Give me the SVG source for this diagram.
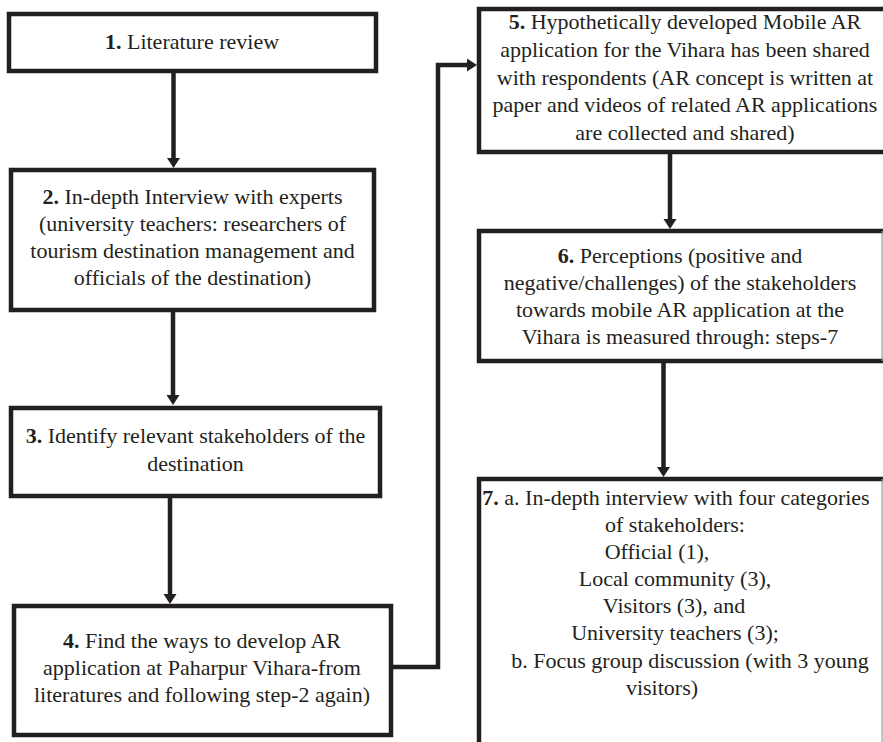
<svg xmlns="http://www.w3.org/2000/svg" width="883" height="742" viewBox="0 0 883 742">
<style>
.box{fill:none;stroke:#231f20;stroke-width:4.5}
.edge{stroke:#9a9a9a;stroke-width:1.2}
.con{fill:none;stroke:#231f20;stroke-width:4.5}
text{font-family:'Liberation Serif','Times New Roman',serif;font-size:22px;fill:#231f20;text-anchor:middle}
.b{font-weight:bold}
</style>
<defs>
<marker id="ah" markerUnits="userSpaceOnUse" markerWidth="11" markerHeight="14" refX="2" refY="6.5" orient="auto">
<path d="M0,0 L10,6.5 L0,13 z" fill="#231f20"/>
</marker>
</defs>
<rect width="883" height="742" fill="#ffffff"/>
<g id="connectors">
<line class="con" x1="173.5" y1="73" x2="173.5" y2="160" marker-end="url(#ah)"/>
<line class="con" x1="173" y1="311" x2="173" y2="397" marker-end="url(#ah)"/>
<line class="con" x1="170" y1="497" x2="170" y2="596" marker-end="url(#ah)"/>
<path class="con" d="M392 667 H438 V65 H469" marker-end="url(#ah)"/>
<line class="con" x1="670" y1="153" x2="670" y2="221" marker-end="url(#ah)"/>
<line class="con" x1="663.5" y1="362" x2="663.5" y2="469" marker-end="url(#ah)"/>
</g>
<g id="node1">
<rect class="box" x="9" y="14" width="367" height="57"/>
<text x="192" y="49"><tspan class="b">1.</tspan> Literature review</text>
</g>
<g id="node2">
<rect class="box" x="11" y="170" width="363" height="140"/>
<text x="192.5" y="204"><tspan class="b">2.</tspan> In-depth Interview with experts</text>
<text x="192.5" y="231">(university teachers: researchers of</text>
<text x="192.5" y="258">tourism destination management and</text>
<text x="192.5" y="285">officials of the destination)</text>
</g>
<g id="node3">
<rect class="box" x="11" y="408" width="369" height="88"/>
<text x="195.5" y="443"><tspan class="b">3.</tspan> Identify relevant stakeholders of the</text>
<text x="195.5" y="471">destination</text>
</g>
<g id="node4">
<rect class="box" x="14" y="606" width="377" height="129"/>
<text x="202" y="648"><tspan class="b">4.</tspan> Find the ways to develop AR</text>
<text x="202" y="675">application at Paharpur Vihara-from</text>
<text x="202" y="702">literatures and following step-2 again)</text>
</g>
<g id="node5">
<path class="box" d="M890 9 H479 V152 H890"/>
<text x="685" y="29"><tspan class="b">5.</tspan> Hypothetically developed Mobile AR</text>
<text x="685" y="57">application for the Vihara has been shared</text>
<text x="685" y="85">with respondents (AR concept is written at</text>
<text x="685" y="112">paper and videos of related AR applications</text>
<text x="685" y="140">are collected and shared)</text>
</g>
<g id="node6">
<path class="box" d="M884 231 H479 V361 H884"/>
<line class="edge" x1="882" y1="231" x2="882" y2="361"/>
<text x="680" y="263"><tspan class="b">6.</tspan> Perceptions (positive and</text>
<text x="680" y="290">negative/challenges) of the stakeholders</text>
<text x="680" y="317">towards mobile AR application at the</text>
<text x="680" y="344">Vihara is measured through: steps-7</text>
</g>
<g id="node7">
<path class="box" d="M479 745 V479 H884"/>
<line class="edge" x1="882" y1="479" x2="882" y2="742"/>
<text x="676" y="505"><tspan class="b">7.</tspan> a. In-depth interview with four categories</text>
<text x="675" y="532">of stakeholders:</text>
<text x="657" y="559">Official (1),</text>
<text x="675" y="586">Local community (3),</text>
<text x="674" y="613">Visitors (3), and</text>
<text x="675" y="640">University teachers (3);</text>
<text x="690" y="668">b. Focus group discussion (with 3 young</text>
<text x="662" y="695">visitors)</text>
</g>
</svg>
